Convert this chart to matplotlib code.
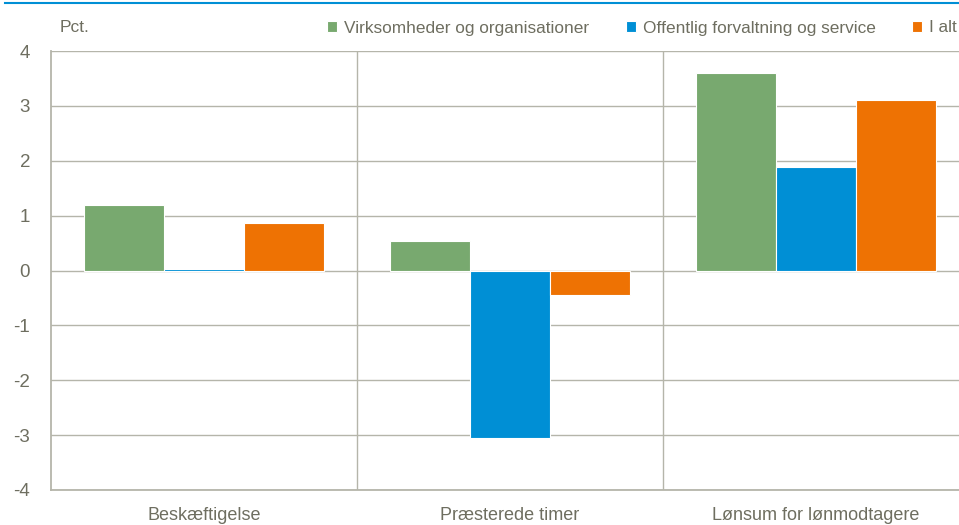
import numpy as np
import matplotlib.pyplot as plt
from matplotlib.lines import Line2D

plt.rcParams['font.family'] = ['Liberation Sans Narrow', 'Liberation Sans', 'DejaVu Sans']
plt.rcParams['axes.unicode_minus'] = False

categories = ['Beskæftigelse', 'Præsterede timer', 'Lønsum for lønmodtagere']
series = ['Virksomheder og organisationer', 'Offentlig forvaltning og service', 'I alt']
virksomheder = [1.2, 0.53, 3.6]
offentlig = [0.02, -3.05, 1.88]
i_alt = [0.86, -0.44, 3.1]
colors = ['#78A96F', '#008FD5', '#EE7203']

txt = '#6E6E60'
grid = '#B5B5AA'

fig = plt.figure(figsize=(9.59, 5.25), dpi=100)
W, H = 959, 525
ax = fig.add_axes([51 / W, 1 - 490 / H, (969 - 51) / W, (490 - 51) / H])

x = np.arange(len(categories))
width = 80 / 306
for i, (vals, name) in enumerate(zip([virksomheder, offentlig, i_alt], series)):
    ax.bar(x + (i - 1) * width, vals, width, color=colors[i], edgecolor='white',
           linewidth=0.8, label=name, zorder=3)

ax.set_xlim(-0.5, 2.5)
ax.set_ylim(-4, 4)
ax.set_yticks(range(-4, 5))
ax.set_xticks(x)
ax.set_xticklabels(categories)
ax.set_xticks([0.5, 1.5], minor=True)
ax.tick_params(axis='x', which='both', length=0, pad=12, labelsize=13, labelcolor=txt)
ax.tick_params(axis='y', length=0, pad=15, labelsize=13.5, labelcolor=txt)
ax.grid(axis='y', color=grid, linewidth=1, zorder=0)
ax.grid(axis='x', which='minor', color=grid, linewidth=1, zorder=0)
for s in ['top', 'right']:
    ax.spines[s].set_visible(False)
for s in ['left', 'bottom']:
    ax.spines[s].set_color(grid)
    ax.spines[s].set_linewidth(1.3)

fig.text(60 / W, 1 - 28 / H, 'Pct.', color=txt, fontsize=12.5, va='center')
leg = fig.legend(loc='center left', bbox_to_anchor=(327 / W, 1 - 28 / H), ncol=3,
                 frameon=False, fontsize=12.4, handlelength=0.6, handleheight=0.6,
                 handletextpad=0.4, columnspacing=2.1, borderaxespad=0, borderpad=0)
for t in leg.get_texts():
    t.set_color(txt)

fig.add_artist(Line2D([5 / W, 1], [1 - 3 / H, 1 - 3 / H], color='#008FD5', linewidth=1.5))

fig.savefig('out.png', dpi=100)
